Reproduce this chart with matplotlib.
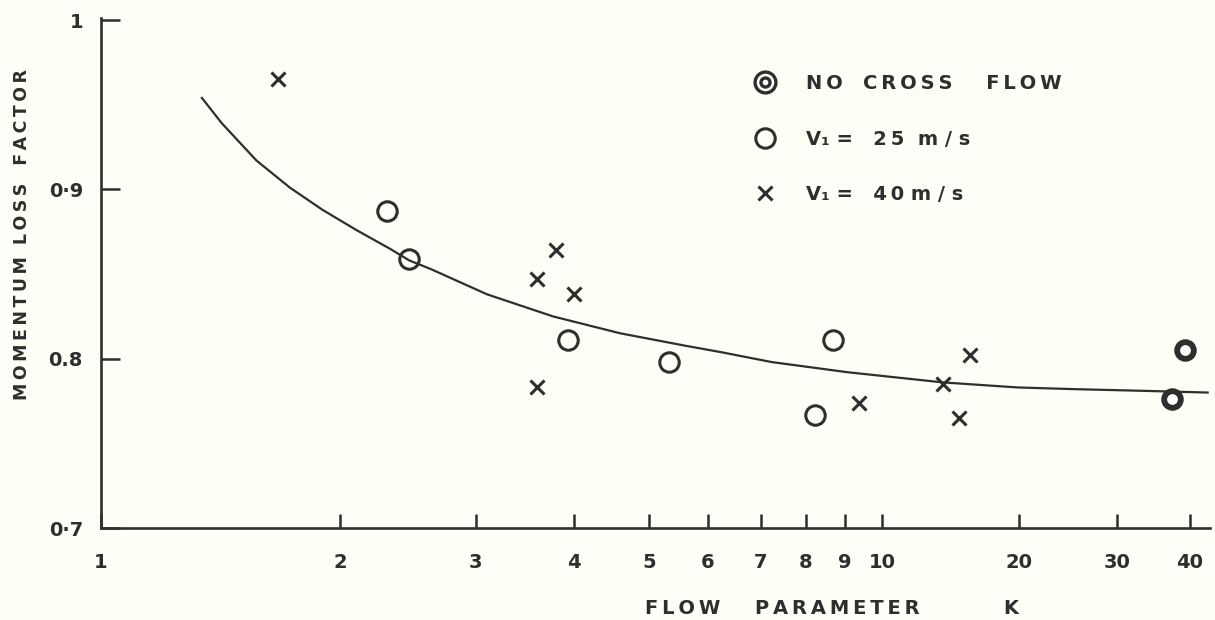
import numpy as np
import matplotlib.pyplot as plt
from matplotlib.lines import Line2D
from matplotlib.scale import FuncScale

# the original is drawn on a hand-ruled log axis, so the decades are not even.
# where every labelled K sits along the axis (pixels of the 1215 px wide sheet)
axis_k = [1, 2, 3, 4, 5, 6, 7, 8, 9, 10, 20, 30, 40, 50]
axis_px = [101, 340, 476, 574, 649, 708, 761, 806, 845, 882, 1019, 1117, 1190, 1247]

# data
k_nocross = [39.2, 37.3]
f_nocross = [0.805, 0.776]

k_25 = [2.30, 2.46, 3.93, 5.32, 8.68, 8.22]
f_25 = [0.887, 0.859, 0.811, 0.798, 0.811, 0.767]

k_40 = [1.67, 3.59, 3.79, 4.00, 3.59, 9.37, 13.6, 14.8, 15.6]
f_40 = [0.965, 0.847, 0.864, 0.838, 0.783, 0.774, 0.785, 0.765, 0.802]

curve_k = [1.34, 1.42, 1.50, 1.57, 1.73, 1.90, 2.10, 2.32, 2.46, 2.62, 3.10,
           3.76, 4.59, 5.62, 6.21, 7.23, 9.07, 13.6, 19.9, 25.2, 33.4, 42.9]
curve_f = [0.954, 0.939, 0.927, 0.917, 0.901, 0.888, 0.876, 0.865, 0.858, 0.853, 0.838,
           0.825, 0.815, 0.8075, 0.804, 0.798, 0.792, 0.786, 0.783, 0.782, 0.781, 0.780]

xticks = [1, 2, 3, 4, 5, 6, 7, 8, 9, 10, 20, 30, 40]
xticklabels = ['1', '2', '3', '4', '5', '6', '7', '8', '9', '10', '20', '30', '40']
yticks = [0.7, 0.8, 0.9, 1.0]
yticklabels = ['0\u00b77', '0.8', '0\u00b79', '1']

INK = '#2e2e2e'
PAPER = '#fefef7'
FONT = 'DejaVu Sans'

log_k = np.log10(axis_k)


def fwd(x):
    x = np.clip(np.asarray(x, dtype=float), 1e-6, None)
    return np.interp(np.log10(x), log_k, axis_px)


def inv(p):
    return 10 ** np.interp(np.asarray(p, dtype=float), axis_px, log_k)


def spaced(s, gap='\u2009'):
    # the lettering on the sheet is widely spaced
    return gap.join(s)


fig = plt.figure(figsize=(12.15, 6.2), dpi=100, facecolor=PAPER)
ax = fig.add_axes([101 / 1215, 1 - 528 / 620, 1109 / 1215, 510 / 620])
ax.set_facecolor(PAPER)
ax.set_xscale(FuncScale(ax, (fwd, inv)))

ax.plot(curve_k, curve_f, color=INK, lw=1.6, zorder=2)
ax.plot(k_nocross, f_nocross, ls='none', marker='o', ms=12, mfc='white',
        mec=INK, mew=4.2, zorder=3)
h25, = ax.plot(k_25, f_25, ls='none', marker='o', ms=14, mfc='none',
               mec=INK, mew=2.2, zorder=3)
h40, = ax.plot(k_40, f_40, ls='none', marker='x', ms=10, mec=INK, mew=2.2, zorder=3)

# legend symbol for "no cross flow" is a ring round a ring
ring_out = Line2D([], [], ls='none', marker='o', ms=15, mfc='none', mec=INK, mew=2.4)
ring_in = Line2D([], [], ls='none', marker='o', ms=6.5, mfc='white', mec=INK, mew=2.4)

ax.set_xlim(1, 43.3)
ax.set_ylim(0.7, 1.0012)

for side in ['top', 'right']:
    ax.spines[side].set_visible(False)
for side in ['left', 'bottom']:
    ax.spines[side].set_linewidth(1.9)
    ax.spines[side].set_color(INK)

ax.set_xticks(xticks)
ax.set_xticklabels(xticklabels)
ax.xaxis.set_minor_locator(plt.NullLocator())
ax.set_yticks(yticks)
ax.set_yticklabels(yticklabels)
ax.tick_params(axis='x', direction='in', length=10, width=1.8, color=INK, pad=18,
               labelsize=14, labelcolor=INK)
ax.tick_params(axis='y', direction='in', length=14, width=1.8, color=INK, pad=13,
               labelsize=14, labelcolor=INK)
for lab in ax.get_xticklabels() + ax.get_yticklabels():
    lab.set_fontfamily(FONT)
    lab.set_fontweight('bold')

label_style = dict(ha='left', va='baseline', fontsize=14, fontweight='bold', color=INK, family=FONT)
fig.text(645 / 1215, 1 - 614 / 620, spaced('FLOW'), **label_style)
fig.text(755 / 1215, 1 - 614 / 620, spaced('PARAMETER'), **label_style)
fig.text(1003 / 1215, 1 - 614 / 620, 'K', **label_style)
fig.text(0.018, 1 - 234 / 620, spaced('MOMENTUM') + '  ' + spaced('LOSS') + '   ' + spaced('FACTOR'),
         rotation=90, ha='center', va='center', fontsize=12.5, fontweight='bold',
         color=INK, family=FONT)

leg = ax.legend([(ring_out, ring_in), h25, h40],
                [spaced('NO') + '   ' + spaced('CROSS') + '     ' + spaced('FLOW'),
                 'V\u2081 =   ' + spaced('25') + '  ' + spaced('m/s', ' '),
                 'V\u2081 =   ' + spaced('40') + ' ' + spaced('m/s', ' ')],
                loc='upper left', bbox_to_anchor=(0.581, 0.890), frameon=False,
                borderaxespad=0, borderpad=0, labelspacing=1.88, handletextpad=1.1,
                prop={'family': FONT, 'weight': 'bold', 'size': 14})
for t in leg.get_texts():
    t.set_color(INK)

fig.savefig('out.png', dpi=100, facecolor=PAPER)
